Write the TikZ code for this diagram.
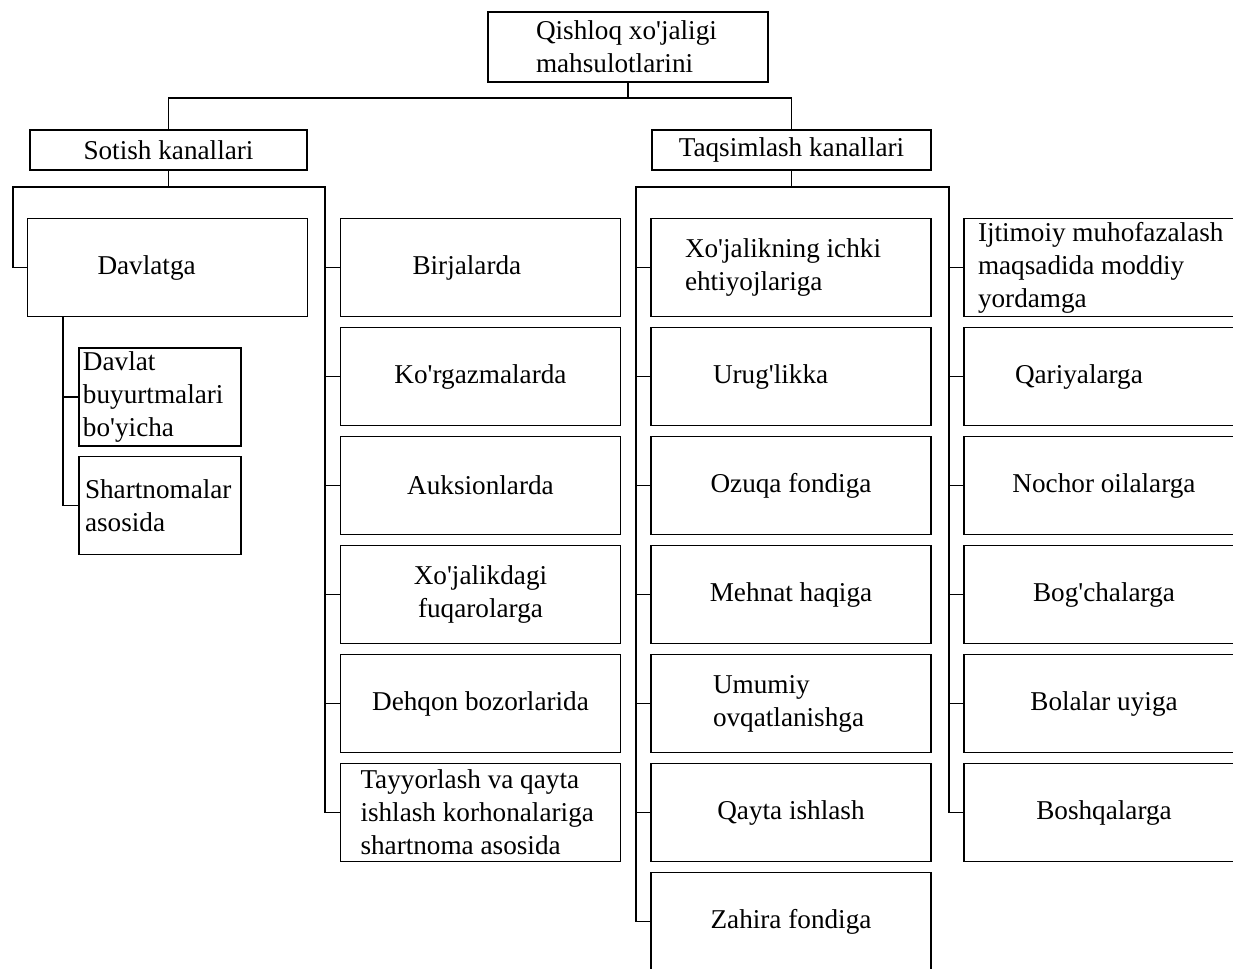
\documentclass[tikz,border=0pt]{standalone}
\usepackage{fontspec}
\setmainfont{Liberation Serif}[Ligatures=TeXOff]
\usepackage{tikz}

\begin{document}
\begin{tikzpicture}[x=0.5pt,y=-0.5pt,line width=0.9pt]
    \tikzstyle{box}=[rectangle, draw=black, inner xsep=2pt, inner ysep=1pt, align=center, font=\fontsize{13.6}{16.5}\selectfont]
    \tikzstyle{col}=[box, minimum width=140pt, minimum height=49pt]
    \tikzstyle{head}=[box, minimum height=20pt]
    \tikzstyle{sub}=[box, minimum width=81pt, minimum height=49pt, align=flush left]

    \useasboundingbox (0,0) rectangle (1233,969);
    \clip (0,0) rectangle (1233,969);

    \node[box, minimum width=140pt, minimum height=35pt, align=flush left, inner xsep=24pt, text width=92pt] (Top) at (628,47) {Qishloq xo'jaligi\\mahsulotlarini};

    \node[head, minimum width=138.5pt] (Sotish) at (168.5,150) {Sotish kanallari};
    \node[head, minimum width=139.5pt] (Taqsim) at (791.5,150) {Taqsimlash kanallari};

    % sotish kanallari
    \node[col, align=flush left, inner xsep=35pt, text width=70pt] (Davlat) at (167.5,267.5) {Davlatga};
    \node[sub, inner xsep=2pt, text width=77pt] (Buyurt) at (160,397) {Davlat\\buyurtmalari\\bo'yicha};
    \node[sub, inner xsep=3pt, text width=75pt] (Shart) at (160,505.5) {Shartnomalar\\asosida};

    \node[col, align=flush left, inner xsep=36pt, text width=68pt] (Birja) at (480.5,267.5) {Birjalarda};
    \node[col] (Korg) at (480.5,376.5) {Ko'rgazmalarda};
    \node[col] (Auks) at (480.5,485.5) {Auksionlarda};
    \node[col] (Fuqaro) at (480.5,594.5) {Xo'jalikdagi\\fuqarolarga};
    \node[col] (Dehqon) at (480.5,703.5) {Dehqon bozorlarida};
    \node[col, align=flush left, inner xsep=10pt, text width=120pt] (Tayyor) at (480.5,812.5) {Tayyorlash va qayta\\ishlash korhonalariga\\shartnoma asosida};

    % taqsimlash kanallari
    \node[col, align=flush left, inner xsep=17pt, text width=106pt] (Ichki) at (791,267.5) {Xo'jalikning ichki\\ehtiyojlariga};
    \node[col, align=flush left, inner xsep=31pt, text width=78pt] (Urug) at (791,376.5) {Urug'likka};
    \node[col] (Ozuqa) at (791,485.5) {Ozuqa fondiga};
    \node[col] (Mehnat) at (791,594.5) {Mehnat haqiga};
    \node[col, align=flush left, inner xsep=31pt, text width=78pt] (Umumiy) at (791,703.5) {Umumiy\\ovqatlanishga};
    \node[col] (Qayta) at (791,812.5) {Qayta ishlash};
    \node[col] (Zahira) at (791,921.5) {Zahira fondiga};

    \node[col, align=flush left, inner xsep=7pt, text width=126pt] (Ijtim) at (1104,267.5) {Ijtimoiy muhofazalash\\maqsadida moddiy\\yordamga};
    \node[col, align=flush left, inner xsep=25.5pt, text width=89pt] (Qari) at (1104,376.5) {Qariyalarga};
    \node[col] (Nochor) at (1104,485.5) {Nochor oilalarga};
    \node[col] (Bogcha) at (1104,594.5) {Bog'chalarga};
    \node[col] (Bolalar) at (1104,703.5) {Bolalar uyiga};
    \node[col] (Boshq) at (1104,812.5) {Boshqalarga};

    \coordinate (J) at (628,98);
    \coordinate (S) at (168.5,187);
    \coordinate (Sl) at (13,187);
    \coordinate (Sr) at (325,187);
    \coordinate (Dv) at (63,316);
    \coordinate (T) at (791.5,187);
    \coordinate (Tl) at (636,187);
    \coordinate (Tr) at (949,187);

    \draw (Top.south) -- (J);
    \draw (Sotish.north) |- (J) -| (Taqsim.north);

    \draw (Sotish.south) -- (S);
    \draw (Davlat.west) -| (Sl) -- (Sr) |- (Tayyor.west);
    \draw (Birja.west) -- (Birja.west -| Sr);
    \draw (Korg.west) -- (Korg.west -| Sr);
    \draw (Auks.west) -- (Auks.west -| Sr);
    \draw (Fuqaro.west) -- (Fuqaro.west -| Sr);
    \draw (Dehqon.west) -- (Dehqon.west -| Sr);

    \draw (Dv) |- (Shart.west);
    \draw (Buyurt.west) -- (Buyurt.west -| Dv);

    \draw (Taqsim.south) -- (T);
    \draw (Zahira.west) -| (Tl) -- (Tr) |- (Boshq.west);
    \draw (Ichki.west) -- (Ichki.west -| Tl);
    \draw (Urug.west) -- (Urug.west -| Tl);
    \draw (Ozuqa.west) -- (Ozuqa.west -| Tl);
    \draw (Mehnat.west) -- (Mehnat.west -| Tl);
    \draw (Umumiy.west) -- (Umumiy.west -| Tl);
    \draw (Qayta.west) -- (Qayta.west -| Tl);
    \draw (Ijtim.west) -- (Ijtim.west -| Tr);
    \draw (Qari.west) -- (Qari.west -| Tr);
    \draw (Nochor.west) -- (Nochor.west -| Tr);
    \draw (Bogcha.west) -- (Bogcha.west -| Tr);
    \draw (Bolalar.west) -- (Bolalar.west -| Tr);
\end{tikzpicture}
\end{document}
